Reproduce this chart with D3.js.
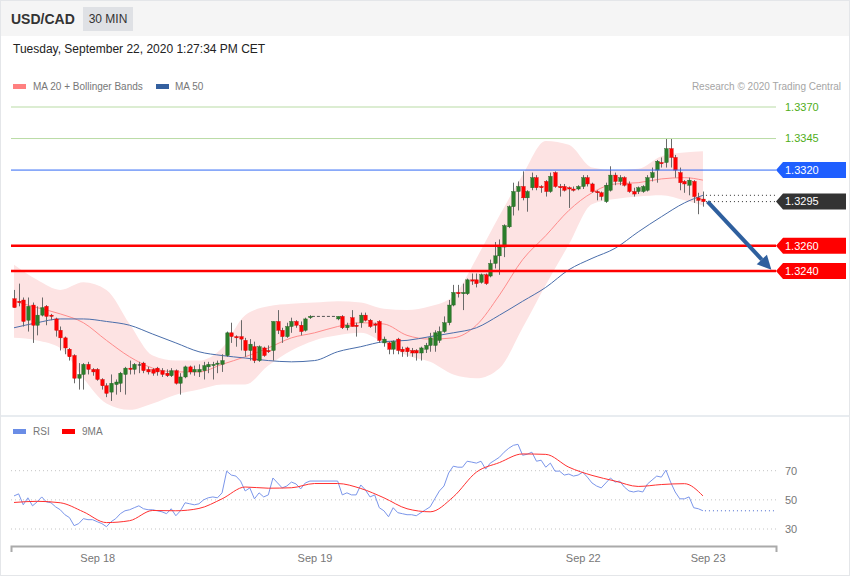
<!DOCTYPE html>
<html><head><meta charset="utf-8">
<script src="https://cdn.jsdelivr.net/npm/d3@7"></script>
<style>
html,body{margin:0;padding:0;background:#fff;}
svg{display:block;font-family:"Liberation Sans",Arial,Helvetica,sans-serif;}
</style></head><body>
<svg id="c" width="850" height="576"></svg>
<script>
// ---------- DATA ----------
const symbol = "USD/CAD";
const period = "30 MIN";
const dateText = "Tuesday, September 22, 2020 1:27:34 PM CET";
const copyrightText = "Research \u00a9 2020 Trading Central";

// 30-minute candles, slot index = position; null = no candle in slot
const openP = [1.3218,1.3216,1.3217,1.3201,1.3213,1.3197,1.3205,1.3212,1.3205,1.3202,
1.3193,1.3187,1.3178,1.3173,1.3155,1.3158,1.3166,1.3162,1.3162,1.3154,
1.3149,1.3144,1.3150,1.3151,1.3158,1.3163,1.3162,1.3166,1.3167,1.3162,
1.3162,1.3163,1.3161,1.3159,1.3157,1.3161,1.3151,1.3156,1.3164,1.3160,
1.3160,1.3161,1.3164,1.3165,1.3166,1.3166,1.3173,1.3191,1.3188,1.3188,
1.3185,1.3177,1.3180,1.3169,1.3179,1.3177,1.3177,1.3200,1.3193,1.3188,
1.3196,1.3200,1.3197,1.3193,1.3203,null,null,null,null,null,
1.3202,1.3204,1.3195,1.3203,1.3197,1.3199,1.3205,1.3201,1.3198,1.3200,
1.3183,1.3183,1.3178,1.3186,1.3178,1.3179,1.3177,1.3177,1.3175,1.3178,
1.3181,1.3181,1.3185,1.3192,1.3199,1.3213,1.3223,1.3222,1.3222,1.3233,
1.3233,1.3231,1.3237,1.3236,1.3246,1.3252,1.3259,1.3275,1.3291,1.3303,
1.3307,1.3298,1.3306,1.3314,1.3307,1.3311,1.3303,1.3318,1.3307,1.3307,
1.3306,1.3305,1.3305,1.3307,1.3314,1.3309,1.3303,1.3302,1.3295,1.3304,
1.3316,1.3311,1.3314,1.3309,1.3303,1.3303,1.3303,1.3304,1.3314,1.3320,
1.3326,1.3326,1.3337,1.3330,1.3318,1.3311,1.3308,1.3311,1.3298,1.3297];
const highP = [1.3225,1.3230,1.3219,1.3219,1.3215,1.3212,1.3219,1.3213,1.3206,1.3203,
1.3196,1.3188,1.3179,1.3174,1.3167,1.3167,1.3168,1.3163,1.3163,1.3155,
1.3151,1.3158,1.3154,1.3160,1.3164,1.3169,1.3167,1.3168,1.3168,1.3164,
1.3163,1.3164,1.3163,1.3162,1.3163,1.3162,1.3159,1.3165,1.3165,1.3165,
1.3166,1.3168,1.3168,1.3168,1.3169,1.3174,1.3192,1.3199,1.3189,1.3201,
1.3187,1.3186,1.3184,1.3181,1.3180,1.3181,1.3200,1.3209,1.3195,1.3199,
1.3203,1.3201,1.3200,1.3203,1.3205,null,null,null,null,null,
1.3204,1.3205,1.3199,1.3209,1.3199,1.3207,1.3207,1.3202,1.3199,1.3201,
1.3188,1.3184,1.3185,1.3187,1.3180,1.3180,1.3179,1.3178,1.3180,1.3183,
1.3191,1.3193,1.3196,1.3204,1.3217,1.3229,1.3229,1.3230,1.3234,1.3238,
1.3238,1.3238,1.3238,1.3249,1.3263,1.3265,1.3277,1.3292,1.3310,1.3311,
1.3319,1.3304,1.3318,1.3316,1.3308,1.3312,1.3318,1.3319,1.3309,1.3309,
1.3307,1.3307,1.3308,1.3316,1.3316,1.3310,1.3304,1.3303,1.3310,1.3323,
1.3318,1.3316,1.3315,1.3311,1.3306,1.3307,1.3308,1.3316,1.3322,1.3328,
1.3330,1.3345,1.3345,1.3332,1.3322,1.3312,1.3314,1.3312,1.3302,1.3303];
const lowP = [1.3211,1.3212,1.3196,1.3192,1.3183,1.3189,1.3204,1.3197,1.3201,1.3188,
1.3177,1.3174,1.3169,1.3151,1.3146,1.3146,1.3158,1.3157,1.3153,1.3146,
1.3140,1.3137,1.3142,1.3144,1.3142,1.3158,1.3158,1.3159,1.3159,1.3158,
1.3157,1.3157,1.3156,1.3156,1.3156,1.3150,1.3142,1.3155,1.3158,1.3157,
1.3156,1.3154,1.3159,1.3154,1.3159,1.3160,1.3172,1.3183,1.3180,1.3177,
1.3172,1.3169,1.3167,1.3168,1.3172,1.3175,1.3169,1.3190,1.3183,1.3187,
1.3191,1.3195,1.3189,1.3192,1.3202,null,null,null,null,null,
1.3201,1.3194,1.3193,1.3196,1.3188,1.3195,1.3200,1.3195,1.3191,1.3183,
1.3180,1.3174,1.3174,1.3174,1.3172,1.3172,1.3172,1.3169,1.3169,1.3175,
1.3176,1.3176,1.3183,1.3191,1.3197,1.3212,1.3219,1.3209,1.3221,1.3229,
1.3227,1.3230,1.3229,1.3235,1.3242,1.3237,1.3251,1.3274,1.3284,1.3288,
1.3296,1.3287,1.3304,1.3304,1.3302,1.3299,1.3302,1.3306,1.3299,1.3303,
1.3290,1.3303,1.3304,1.3305,1.3307,1.3302,1.3296,1.3296,1.3294,1.3303,
1.3308,1.3308,1.3307,1.3302,1.3299,1.3301,1.3302,1.3303,1.3311,1.3310,
1.3322,1.3322,1.3322,1.3314,1.3304,1.3302,1.3300,1.3294,1.3285,1.3291];
const closeP = [1.3211,1.3215,1.3200,1.3212,1.3197,1.3205,1.3211,1.3204,1.3204,1.3193,
1.3187,1.3179,1.3172,1.3155,1.3158,1.3166,1.3162,1.3160,1.3154,1.3149,
1.3143,1.3151,1.3152,1.3159,1.3163,1.3162,1.3166,1.3166,1.3161,1.3160,
1.3159,1.3160,1.3158,1.3157,1.3161,1.3151,1.3156,1.3164,1.3160,1.3162,
1.3162,1.3165,1.3166,1.3166,1.3167,1.3169,1.3191,1.3188,1.3187,1.3186,
1.3177,1.3182,1.3169,1.3180,1.3173,1.3176,1.3200,1.3193,1.3188,1.3196,
1.3200,1.3197,1.3192,1.3202,1.3204,null,null,null,null,null,
1.3204,1.3195,1.3197,1.3196,1.3196,1.3205,1.3201,1.3196,1.3197,1.3185,
1.3186,1.3178,1.3184,1.3177,1.3176,1.3176,1.3175,1.3175,1.3179,1.3181,
1.3187,1.3191,1.3192,1.3199,1.3213,1.3223,1.3222,1.3223,1.3233,1.3232,
1.3230,1.3237,1.3230,1.3246,1.3252,1.3259,1.3276,1.3291,1.3303,1.3307,
1.3298,1.3303,1.3314,1.3306,1.3306,1.3303,1.3315,1.3307,1.3306,1.3304,
1.3305,1.3304,1.3307,1.3314,1.3309,1.3303,1.3302,1.3299,1.3308,1.3316,
1.3311,1.3314,1.3308,1.3303,1.3301,1.3306,1.3307,1.3314,1.3318,1.3327,
1.3325,1.3337,1.3330,1.3320,1.3310,1.3309,1.3312,1.3299,1.3296,1.3295];

// RSI per slot
const rsi = [52.7,54.1,46.6,51.4,45.9,48.6,52.0,48.6,48.0,45.2,
43.2,39.8,37.8,32.3,33.7,37.1,36.4,36.4,35.0,33.7,
31.6,35.0,37.1,40.5,42.5,43.2,44.6,45.9,43.9,43.2,
43.2,42.5,41.8,40.5,43.9,39.1,42.5,48.0,47.3,46.6,
47.3,50.0,51.4,52.0,51.4,54.8,69.7,67.0,66.3,62.9,
56.1,58.2,50.7,54.8,52.0,53.4,65.0,61.6,58.2,59.5,
62.2,60.9,57.5,61.6,62.9,null,null,null,null,null,
62.9,53.4,54.8,53.4,53.4,60.2,56.8,52.0,53.4,44.6,
42.5,38.4,44.6,41.2,40.5,39.8,39.8,39.1,41.2,43.2,
45.2,50.7,56.1,59.5,68.4,73.1,72.4,72.4,76.5,75.9,
75.2,76.5,71.1,75.2,77.2,79.3,82.7,85.4,87.4,88.1,
80.6,81.3,82.7,76.5,77.2,72.4,75.2,69.7,69.7,67.0,
67.7,66.3,67.0,69.0,65.6,61.6,59.5,58.2,61.6,65.0,
62.2,62.9,58.8,56.1,55.4,56.1,55.4,60.9,63.6,66.3,
65.6,70.4,62.2,55.4,50.7,50.7,52.0,44.6,43.9,42.5];

// indicator curves, sampled at these slots
const sampleIdx = [0,5,10,15,20,25,30,35,40,45,50,55,60,65,70,75,80,85,90,95,100,105,110,115,120,125,130,135,140,145,149];
const bbUpper = [1.3245,1.3233,1.3225,1.3231,1.3225,1.3198,1.3173,1.3169,1.3169,1.3179,1.3205,1.3212,1.3214,1.3215,1.3216,1.3215,1.3210,1.3209,1.3212,1.3220,1.3250,1.3284,1.3316,1.3343,1.3340,1.3322,1.3320,1.3321,1.3331,1.3334,1.3335];
const bbLower = [1.3187,1.3185,1.3179,1.3155,1.3135,1.3130,1.3135,1.3142,1.3146,1.3150,1.3150,1.3165,1.3177,1.3185,1.3189,1.3191,1.3183,1.3173,1.3168,1.3158,1.3155,1.3163,1.3195,1.3229,1.3261,1.3293,1.3297,1.3299,1.3300,1.3296,1.3292];
const ma20 = [1.3216,1.3211,1.3206,1.3199,1.3185,1.3172,1.3163,1.3160,1.3160,1.3166,1.3172,1.3179,1.3187,1.3191,1.3196,1.3199,1.3198,1.3189,1.3186,1.3187,1.3197,1.3221,1.3249,1.3268,1.3288,1.3302,1.3309,1.3310,1.3313,1.3314,1.3312];
const ma50 = [1.3195,1.3199,1.3202,1.3202,1.3200,1.3197,1.3190,1.3183,1.3176,1.3173,1.3171,1.3169,1.3168,1.3169,1.3176,1.3180,1.3184,1.3185,1.3188,1.3191,1.3195,1.3205,1.3216,1.3227,1.3241,1.3250,1.3258,1.3271,1.3283,1.3294,1.3300];
const rsiMA9 = [48.2,49.0,48.0,41.8,34.4,35.7,42.7,42.5,44.1,50.7,58.8,58.0,58.3,61.2,61.2,57.8,51.4,43.9,41.8,52.0,69.0,75.6,81.5,81.2,72.4,66.8,62.9,59.2,60.5,61.1,52.7];

// key levels
const levelValues = [1.3370, 1.3345, 1.3320, 1.3295, 1.3260, 1.3240];
const levelKinds  = ["target","target","resistance","last","support","support"];

// forecast arrow (slot, price)
const arrowSlots  = [150, 163.8];
const arrowPrices = [1.3295, 1.3241];

// x-axis labels
const tickSlots  = [18, 65, 123, 150];
const tickLabels = ["Sep 18","Sep 19","Sep 22","Sep 23"];
const rsiGrid = [70, 50, 30];

// ---------- DRAW ----------
const svg = d3.select("#c");
const W = 850, H = 576;
const x = d3.scaleLinear().domain([-0.65, 164.8]).range([11, 776]);
const y = d3.scaleLinear().domain([1.3240, 1.3370]).range([271, 107]);
const yr = d3.scaleLinear().domain([30, 70]).range([529, 470.7]);

// frame & header
svg.append("rect").attr("x",0.5).attr("y",0.5).attr("width",W-1).attr("height",H-1)
  .attr("fill","#fff").attr("stroke","#e4e6e9");
svg.append("rect").attr("x",1).attr("y",1).attr("width",W-2).attr("height",35).attr("fill","#f5f5f5");
svg.append("text").attr("x",11).attr("y",24).text(symbol)
  .attr("font-size",14).attr("font-weight","bold").attr("fill","#333");
svg.append("rect").attr("x",83).attr("y",7).attr("width",50).attr("height",24).attr("fill","#dfe1e5");
svg.append("text").attr("x",108).attr("y",23).attr("text-anchor","middle").text(period)
  .attr("font-size",12).attr("fill","#333");
svg.append("text").attr("x",13).attr("y",53).text(dateText).attr("font-size",12).attr("fill","#222");

// panel divider
svg.append("line").attr("x1",1).attr("x2",W-1).attr("y1",416).attr("y2",416)
  .attr("stroke","#e8ecf0").attr("stroke-width",2);

// legend main
svg.append("rect").attr("x",13).attr("y",84).attr("width",13).attr("height",5).attr("fill","#ff8080");
svg.append("text").attr("x",33).attr("y",90).text("MA 20 + Bollinger Bands").attr("font-size",10).attr("fill","#777");
svg.append("rect").attr("x",156).attr("y",84).attr("width",13).attr("height",5).attr("fill","#34609f");
svg.append("text").attr("x",175).attr("y",90).text("MA 50").attr("font-size",10).attr("fill","#777");
svg.append("text").attr("x",841).attr("y",90).attr("text-anchor","end").text(copyrightText)
  .attr("font-size",10).attr("fill","#a5a5a5");

// Bollinger band
const bandData = sampleIdx.map((s,k)=>({s, u:bbUpper[k], l:bbLower[k], m20:ma20[k], m50:ma50[k], r9:rsiMA9[k]}));
svg.append("path").datum(bandData)
  .attr("d", d3.area().x(d=>x(d.s)).y0(d=>y(d.l)).y1(d=>y(d.u)).curve(d3.curveMonotoneX))
  .attr("fill","#fde3e3");
svg.append("path").datum(bandData)
  .attr("d", d3.line().x(d=>x(d.s)).y(d=>y(d.m20)).curve(d3.curveMonotoneX))
  .attr("fill","none").attr("stroke","#ff8c8c").attr("stroke-width",1);
svg.append("path").datum(bandData)
  .attr("d", d3.line().x(d=>x(d.s)).y(d=>y(d.m50)).curve(d3.curveMonotoneX))
  .attr("fill","none").attr("stroke","#4a6eab").attr("stroke-width",1);

// candles
const candles = openP.map((o,i)=>({i,o,h:highP[i],l:lowP[i],c:closeP[i]})).filter(d=>d.o!=null);
// gap connector
for (let k=1;k<candles.length;k++){
  if (candles[k].i - candles[k-1].i > 1){
    svg.append("line").attr("x1",x(candles[k-1].i)+2).attr("x2",x(candles[k].i)-2)
      .attr("y1",y(candles[k-1].c)).attr("y2",y(candles[k-1].c))
      .attr("stroke","#555").attr("stroke-width",1).attr("stroke-dasharray","3,2");
  }
}
const cg = svg.append("g");
cg.selectAll("line.w").data(candles).join("line")
  .attr("x1",d=>Math.round(x(d.i))+0.5).attr("x2",d=>Math.round(x(d.i))+0.5)
  .attr("y1",d=>y(d.h)).attr("y2",d=>y(d.l))
  .attr("stroke","#6a6a6a").attr("stroke-width",1);
const bw = 3.4;
cg.selectAll("rect.b").data(candles).join("rect")
  .attr("x",d=>Math.round(x(d.i))+0.5-bw/2)
  .attr("width",bw)
  .attr("y",d=>Math.min(y(d.o),y(d.c)))
  .attr("height",d=>Math.max(1.2, Math.abs(y(d.o)-y(d.c))))
  .attr("fill",d=> Math.abs(d.o-d.c)<0.00008 ? "#333" : (d.c>d.o ? "#2a7d2a" : "#ff0000"))
  .attr("stroke",d=> Math.abs(d.o-d.c)<0.00008 ? "none" : (d.c>d.o ? "#1f5f1f" : "#d00000"))
  .attr("stroke-width",0.4);

// level lines
const levels = levelValues.map((v,k)=>({v, kind:levelKinds[k]}));
levels.forEach(L=>{
  const yy = y(L.v);
  if (L.kind==="target"){
    svg.append("line").attr("x1",11).attr("x2",776).attr("y1",yy).attr("y2",yy)
      .attr("stroke","#b9dba5").attr("stroke-width",1);
    svg.append("text").attr("x",785).attr("y",yy).attr("dy","0.35em").text(L.v.toFixed(4))
      .attr("font-size",11).attr("fill","#4fae1a");
  } else if (L.kind==="resistance"){
    svg.append("line").attr("x1",11).attr("x2",776).attr("y1",yy).attr("y2",yy)
      .attr("stroke","#2f67f5").attr("stroke-width",1);
  } else if (L.kind==="support"){
    svg.append("line").attr("x1",11).attr("x2",776).attr("y1",yy).attr("y2",yy)
      .attr("stroke","#ff0000").attr("stroke-width",2.5);
  } else if (L.kind==="last"){
    svg.append("line").attr("x1",x(149)+3).attr("x2",776).attr("y1",yy).attr("y2",yy)
      .attr("stroke","#333").attr("stroke-width",1).attr("stroke-dasharray","1,3");
    const m = y(ma50[ma50.length-1]);
    svg.append("line").attr("x1",x(149)+3).attr("x2",776).attr("y1",m).attr("y2",m)
      .attr("stroke","#333").attr("stroke-width",1).attr("stroke-dasharray","1,3");
  }
  if (L.kind!=="target"){
    const col = L.kind==="resistance" ? "#1f5fff" : (L.kind==="last" ? "#333333" : "#ff0000");
    svg.append("path")
      .attr("d",`M776,${yy} L783,${yy-8} L846,${yy-8} L846,${yy+8} L783,${yy+8} Z`)
      .attr("fill",col);
    svg.append("text").attr("x",785).attr("y",yy).attr("dy","0.35em").text(L.v.toFixed(4))
      .attr("font-size",11).attr("fill","#fff");
  }
});

// forecast arrow
{
  const x0 = x(arrowSlots[0]), y0 = y(arrowPrices[0]);
  const x1 = x(arrowSlots[1]), y1 = y(arrowPrices[1]);
  const ang = Math.atan2(y1-y0, x1-x0);
  const hl = 14, hw = 7;
  const bx = x1 - hl*Math.cos(ang), by = y1 - hl*Math.sin(ang);
  svg.append("line").attr("x1",x0).attr("y1",y0).attr("x2",bx).attr("y2",by)
    .attr("stroke","#2e5f9e").attr("stroke-width",4);
  const px = -Math.sin(ang), py = Math.cos(ang);
  svg.append("path")
    .attr("d",`M${x1},${y1} L${bx+px*hw},${by+py*hw} L${bx-px*hw},${by-py*hw} Z`)
    .attr("fill","#2e5f9e");
}

// RSI panel
svg.append("rect").attr("x",13).attr("y",429).attr("width",13).attr("height",5).attr("fill","#6a8de6");
svg.append("text").attr("x",33).attr("y",435).text("RSI").attr("font-size",10).attr("fill","#777");
svg.append("rect").attr("x",62).attr("y",429).attr("width",13).attr("height",5).attr("fill","#ff0000");
svg.append("text").attr("x",82).attr("y",435).text("9MA").attr("font-size",10).attr("fill","#777");

rsiGrid.forEach(v=>{
  svg.append("line").attr("x1",11).attr("x2",776).attr("y1",yr(v)).attr("y2",yr(v))
    .attr("stroke","#c4c4c4").attr("stroke-width",1).attr("stroke-dasharray","1,3");
  svg.append("text").attr("x",785).attr("y",yr(v)).attr("dy","0.35em").text(v)
    .attr("font-size",11).attr("fill","#777");
});
const rsiPts = rsi.map((v,i)=>({i,v})).filter(d=>d.v!=null);
svg.append("path").datum(rsiPts)
  .attr("d", d3.line().x(d=>x(d.i)).y(d=>yr(d.v)))
  .attr("fill","none").attr("stroke","#7b96ea").attr("stroke-width",1);
svg.append("path").datum(bandData)
  .attr("d", d3.line().x(d=>x(d.s)).y(d=>yr(d.r9)).curve(d3.curveMonotoneX))
  .attr("fill","none").attr("stroke","#ff3030").attr("stroke-width",1);
{
  const last = rsiPts[rsiPts.length-1];
  svg.append("line").attr("x1",x(last.i)+2).attr("x2",776).attr("y1",yr(last.v)).attr("y2",yr(last.v))
    .attr("stroke","#4a6ad0").attr("stroke-width",1).attr("stroke-dasharray","1,3");
}

// x axis
const xAxis = d3.axisBottom(x).tickValues(tickSlots).tickFormat((d,k)=>tickLabels[k])
  .tickSizeInner(0).tickSizeOuter(6).tickPadding(8);
const ax = svg.append("g").attr("transform","translate(0,546)").call(xAxis);
ax.select(".domain").attr("stroke","#aaa").attr("stroke-width",2);
ax.selectAll("text").attr("font-size",11).attr("fill","#777")
  .attr("font-family","Liberation Sans, Arial, sans-serif");
</script>
</body></html>
